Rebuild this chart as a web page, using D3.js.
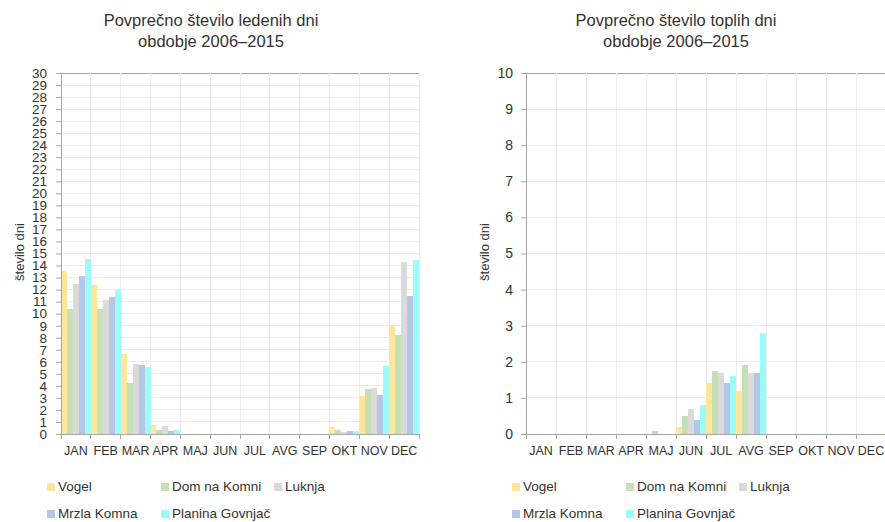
<!DOCTYPE html>
<html>
<head>
<meta charset="utf-8">
<script src="https://cdn.jsdelivr.net/npm/d3@7"></script>
<style>
  html, body { margin: 0; padding: 0; background: #fff; }
  svg { display: block; font-family: "Liberation Sans", Arial, sans-serif; }
</style>
</head>
<body>
<svg id="chart" width="885" height="522"></svg>
<script>
const months = ["JAN","FEB","MAR","APR","MAJ","JUN","JUL","AVG","SEP","OKT","NOV","DEC"];
const seriesNames = ["Vogel","Dom na Komni","Luknja","Mrzla Komna","Planina Govnjač"];
const seriesColors = ["#FFE699","#C5E0B4","#DADADA","#B4C7E7","#9CFCFC"];

// Povprečno število ledenih dni
const iceVogel   = [13.55, 12.4, 6.65, 0.75, 0, 0, 0, 0, 0, 0.55, 3.15, 9.05];
const iceDom     = [10.4, 10.4, 4.25, 0.35, 0, 0, 0, 0, 0, 0.3, 3.7, 8.25];
const iceLuknja  = [12.5, 11.15, 5.8, 0.65, 0, 0, 0, 0, 0, 0.17, 3.8, 14.3];
const iceMrzla   = [13.15, 11.35, 5.75, 0.25, 0, 0, 0, 0, 0, 0.25, 3.25, 11.5];
const icePlanina = [14.55, 11.95, 5.6, 0.33, 0, 0, 0, 0, 0, 0.25, 5.65, 14.45];

// Povprečno število toplih dni
const warmVogel   = [0, 0, 0, 0, 0, 0.2, 1.4, 1.2, 0, 0, 0, 0];
const warmDom     = [0, 0, 0, 0, 0.07, 0.5, 1.75, 1.9, 0, 0, 0, 0];
const warmLuknja  = [0, 0, 0, 0, 0, 0.7, 1.7, 1.7, 0, 0, 0, 0];
const warmMrzla   = [0, 0, 0, 0, 0, 0.4, 1.4, 1.7, 0, 0, 0, 0];
const warmPlanina = [0, 0, 0, 0, 0, 0.8, 1.6, 2.8, 0, 0, 0, 0];

const iceTicks  = d3.range(0, 31, 1);
const warmTicks = d3.range(0, 11, 1);

const svg = d3.select("#chart");

function drawChart(cfg) {
  const g = svg.append("g").attr("transform", `translate(${cfg.ox},0)`);
  const left = 61, right = 419, top = 73, bottom = 434;
  const x = d3.scaleBand().domain(months).range([left, left + (right - left) * cfg.wScale]).padding(0);
  const y = d3.scaleLinear().domain([0, cfg.max]).range([bottom, top]);
  const xs = d3.scaleBand().domain(seriesNames).range([0, x.bandwidth()]).padding(0);

  // grid
  g.append("g").selectAll("line.h").data(cfg.ticks).join("line")
    .attr("x1", left).attr("x2", x.range()[1])
    .attr("y1", d => y(d)).attr("y2", d => y(d))
    .attr("stroke", d => d === cfg.max ? "#a6a6a6" : "#ececec").attr("stroke-width", 1)
    .attr("shape-rendering", "crispEdges");
  g.append("g").selectAll("line.v").data(months.slice(1).concat(["__end"])).join("line")
    .attr("x1", d => d === "__end" ? x.range()[1] : x(d))
    .attr("x2", d => d === "__end" ? x.range()[1] : x(d))
    .attr("y1", top).attr("y2", bottom)
    .attr("stroke", "#ececec").attr("shape-rendering", "crispEdges");

  // bars
  cfg.series.forEach((vals, si) => {
    g.append("g").selectAll("rect").data(months.map((m, i) => ({m, v: vals[i]})).filter(d => d.v > 0)).join("rect")
      .attr("x", d => x(d.m) + xs(seriesNames[si]))
      .attr("width", xs.bandwidth())
      .attr("y", d => y(d.v))
      .attr("height", d => y(0) - y(d.v))
      .attr("fill", seriesColors[si])
      .attr("shape-rendering", "crispEdges");
  });

  // y axis
  const ya = g.append("g").attr("transform", `translate(${left},0)`)
    .call(d3.axisLeft(y).tickValues(cfg.ticks).tickFormat(d3.format("d")).tickSize(5).tickPadding(cfg.pad));
  ya.select(".domain").attr("stroke", "#a6a6a6");
  ya.selectAll(".tick line").attr("stroke", "#a6a6a6");
  ya.selectAll("text").attr("font-size", cfg.tickFont).attr("fill", "#333")
    .attr("font-family", "Liberation Sans, Arial, sans-serif");

  // x axis
  const xa = g.append("g").attr("transform", `translate(0,${bottom})`)
    .call(d3.axisBottom(x).tickSize(0).tickPadding(12));
  xa.select(".domain").attr("stroke", "#a6a6a6");
  xa.selectAll("text").attr("font-size", 12.5).attr("fill", "#333")
    .attr("font-family", "Liberation Sans, Arial, sans-serif");
  g.append("g").selectAll("line").data(months.map(m => x(m)).concat([x.range()[1]])).join("line")
    .attr("x1", d => d).attr("x2", d => d).attr("y1", bottom).attr("y2", bottom + 5)
    .attr("stroke", "#a6a6a6").attr("shape-rendering", "crispEdges");

  // title
  const t = g.append("text").attr("text-anchor", "middle").attr("font-size", 16.5).attr("fill", "#333");
  t.append("tspan").attr("x", 211).attr("y", 26).text(cfg.title1);
  t.append("tspan").attr("x", 211).attr("y", 47).text(cfg.title2);

  // y title
  g.append("text").attr("transform", `translate(${cfg.ytx},252) rotate(-90)`)
    .attr("text-anchor", "middle").attr("font-size", 13).attr("fill", "#333")
    .text("število dni");

  // legend
  const legPos = [[47, 491], [161, 491], [274, 491], [47, 518], [161, 518]];
  seriesNames.forEach((n, i) => {
    const [lx, ly] = legPos[i];
    g.append("rect").attr("x", lx).attr("y", ly - 8).attr("width", 8).attr("height", 8).attr("fill", seriesColors[i]);
    g.append("text").attr("x", lx + 11).attr("y", ly).attr("font-size", 13.5).attr("fill", "#333").text(n);
  });
}

drawChart({
  ox: 0, max: 30, ticks: iceTicks, wScale: 1, pad: 9, tickFont: 13.5, ytx: 24,
  title1: "Povprečno število ledenih dni", title2: "obdobje 2006–2015",
  series: [iceVogel, iceDom, iceLuknja, iceMrzla, icePlanina]
});
drawChart({
  ox: 465, max: 10, ticks: warmTicks, wScale: 360 / 358, pad: 8, tickFont: 14, ytx: 24,
  title1: "Povprečno število toplih dni", title2: "obdobje 2006–2015",
  series: [warmVogel, warmDom, warmLuknja, warmMrzla, warmPlanina]
});
</script>
</body>
</html>
